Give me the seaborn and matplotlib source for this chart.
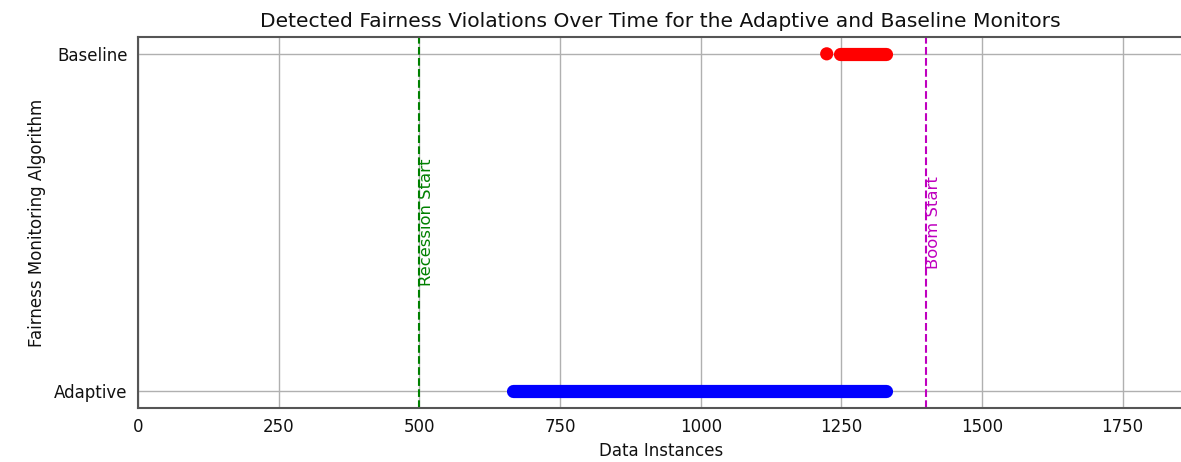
import matplotlib
matplotlib.use("Agg")
import matplotlib.pyplot as plt
import numpy as np
import pandas as pd
import seaborn as sb

# monitors on the y axis
monitors = ["Adaptive", "Baseline"]

# runs of consecutive detected violations (data instance index)
adaptive_runs_start = [666]
adaptive_runs_end = [1330]
baseline_runs_start = [1247]
baseline_runs_end = [1329]
# isolated detections
baseline_single = [1224]

# event markers
event_x = [500, 1400]
event_names = ["Recession Start", "Boom Start"]
event_colors = ["g", "m"]

sb.set_style("white")
plt.rcParams['font.family'] = ['DejaVu Sans']
plt.rcParams['text.color'] = '#111'
plt.rcParams['axes.labelcolor'] = '#111'

fig = plt.figure(figsize=(11.81, 4.62), dpi=100)
ax = fig.add_axes([0.117, 0.117, 0.885, 0.803])

ypos = {m: i for i, m in enumerate(monitors)}
lw = 9.5

for s, e in zip(adaptive_runs_start, adaptive_runs_end):
    d = pd.DataFrame({"x": [s, e], "y": [ypos["Adaptive"]] * 2})
    sb.lineplot(data=d, x="x", y="y", ax=ax, color="b", linewidth=lw,
                solid_capstyle="round", zorder=3)
for s, e in zip(baseline_runs_start, baseline_runs_end):
    d = pd.DataFrame({"x": [s, e], "y": [ypos["Baseline"]] * 2})
    sb.lineplot(data=d, x="x", y="y", ax=ax, color="r", linewidth=lw,
                solid_capstyle="round", zorder=3)
sb.scatterplot(x=baseline_single, y=[ypos["Baseline"]] * len(baseline_single),
               ax=ax, color="r", s=90, edgecolor="none", zorder=3)

for x, name, c in zip(event_x, event_names, event_colors):
    ax.axvline(x, color=c, linestyle="--", linewidth=1.5, zorder=2)
    ax.text(x, 0.5, name, rotation=90, color=c, ha="left", va="center",
            fontsize=11.8)

ax.set_xlim(0, 1858)
ax.set_ylim(-0.05, 1.05)
ax.set_yticks([ypos[m] for m in monitors])
ax.set_yticklabels(monitors, fontsize=12)
ax.set_xticks([0, 250, 500, 750, 1000, 1250, 1500, 1750])
ax.tick_params(axis="x", labelsize=12)
ax.tick_params(axis="both", length=4, width=1.2, direction="out",
               colors="#333", labelcolor="#111")
ax.grid(True, color="#b0b0b0", linewidth=1)
for sp in ax.spines.values():
    sp.set_color("#555")
    sp.set_linewidth(1.5)

ax.set_title("Detected Fairness Violations Over Time for the Adaptive and Baseline Monitors",
             fontsize=14.6, pad=7)
ax.set_xlabel("Data Instances", fontsize=12)
ax.set_ylabel("Fairness Monitoring Algorithm", fontsize=12, labelpad=6)

fig.savefig("out.png", dpi=100)
plt.close(fig)
